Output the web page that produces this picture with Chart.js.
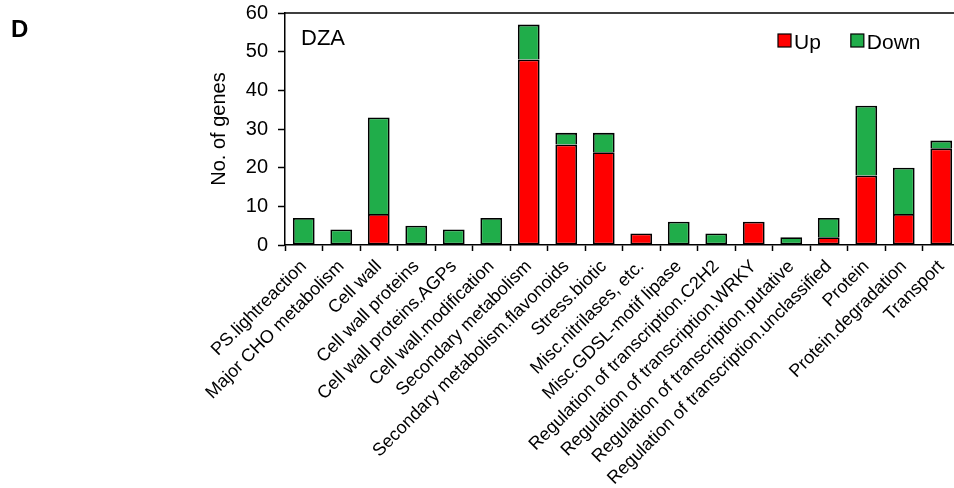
<!DOCTYPE html>
<html>
<head>
<meta charset="utf-8">
<script src="https://cdn.jsdelivr.net/npm/chart.js@4"></script>
<style>
  html, body { margin: 0; padding: 0; overflow: hidden; background: #fff; }
  #wrap { width: 970px; height: 488px; position: relative; }
</style>
</head>
<body>
<div id="wrap"><canvas id="genes"></canvas></div>
<script>
var categories = [
  'PS.lightreaction', 'Major CHO metabolism', 'Cell wall', 'Cell wall proteins',
  'Cell wall proteins.AGPs', 'Cell wall.modification', 'Secondary metabolism',
  'Secondary metabolism.flavonoids', 'Stress.biotic', 'Misc.nitrilases, etc.',
  'Misc.GDSL-motif lipase', 'Regulation of transcription.C2H2',
  'Regulation of transcription.WRKY', 'Regulation of transcription.putative',
  'Regulation of transcription.unclassified', 'Protein', 'Protein.degradation', 'Transport'
];
var upCounts   = [0, 0, 8, 0, 0, 0, 48, 26, 24, 3, 0, 0, 6, 0, 2, 18, 8, 25];
var downCounts = [7, 4, 25, 5, 4, 7, 9, 3, 5, 0, 6, 3, 0, 2, 5, 18, 12, 2];
var yTicks = [0, 10, 20, 30, 40, 50, 60];
var panelLetter = 'D';
var panelTitle = 'DZA';

var upColor = '#ff0000';
var downColor = '#20ad4a';
var font = 'Arial, "Liberation Sans", sans-serif';

// empty segments should not leave a border line on the axis
function noZero(arr) {
  return arr.map(function(v) { return v === 0 ? null : v; });
}

// frame, panel letter, inner title and legend
var extras = {
  id: 'extras',
  afterDraw: function(chart) {
    var ctx = chart.ctx, a = chart.chartArea;
    ctx.save();
    ctx.strokeStyle = '#000';
    ctx.lineWidth = 1.5;
    ctx.beginPath();
    ctx.moveTo(a.left, a.top);
    ctx.lineTo(a.right, a.top);
    ctx.lineTo(a.right, a.bottom);
    ctx.stroke();

    ctx.fillStyle = '#000';
    ctx.textBaseline = 'alphabetic';
    ctx.textAlign = 'left';
    ctx.font = 'bold 24px ' + font;
    ctx.fillText(panelLetter, 11, 37);
    ctx.font = '22px ' + font;
    ctx.fillText(panelTitle, 301, 45);

    // legend
    ctx.font = '21px ' + font;
    var x = 778, y = 34, box = 13;
    chart.data.datasets.forEach(function(ds) {
      ctx.fillStyle = ds.backgroundColor;
      ctx.fillRect(x, y, box, box);
      ctx.lineWidth = 1.2;
      ctx.strokeStyle = '#000';
      ctx.strokeRect(x, y, box, box);
      ctx.fillStyle = '#000';
      ctx.fillText(ds.label, x + box + 3, y + 15);
      x += box + 3 + ctx.measureText(ds.label).width + 30;
    });
    ctx.restore();
  }
};

var ctx = document.getElementById('genes').getContext('2d');
var chart = new Chart(ctx, {
  type: 'bar',
  data: {
    labels: categories,
    datasets: [
      { label: 'Up', data: noZero(upCounts), backgroundColor: upColor, borderColor: '#000', borderWidth: 1.8, borderSkipped: false },
      { label: 'Down', data: noZero(downCounts), backgroundColor: downColor, borderColor: '#000',
        borderWidth: function(c) {
          // sits on a red segment: let the red top edge be the divider
          return upCounts[c.dataIndex] ? { top: 1.8, left: 1.8, right: 1.8, bottom: 0 } : 1.8;
        },
        borderSkipped: false }
    ]
  },
  options: {
    responsive: true,
    maintainAspectRatio: false,
    animation: false,
    categoryPercentage: 1,
    barPercentage: 0.58,
    layout: { padding: { left: 203, top: 13, right: 10, bottom: 0 } },
    plugins: {
      legend: { display: false },
      tooltip: { enabled: false }
    },
    scales: {
      x: {
        stacked: true,
        offset: true,
        grid: { offset: true, drawOnChartArea: false, drawTicks: true, tickLength: 6, tickWidth: 1.5, tickColor: '#000' },
        border: { color: '#000', width: 1.5 },
        ticks: { autoSkip: false, minRotation: 45, maxRotation: 45, padding: 5, color: '#000', font: { family: font, size: 18 } },
        afterFit: function(s) { s.height = 243; s.paddingLeft = 0; s.paddingRight = 0; }
      },
      y: {
        stacked: true,
        min: 0,
        max: 60,
        afterBuildTicks: function(s) { s.ticks = yTicks.map(function(v) { return { value: v }; }); },
        grid: { drawOnChartArea: false, tickLength: 7, tickWidth: 1.5, tickColor: '#000' },
        border: { color: '#000', width: 1.5 },
        ticks: { padding: 10, color: '#000', font: { family: font, size: 20 } },
        title: { display: true, text: 'No. of genes', color: '#000', font: { family: font, size: 20 }, padding: { top: 4, bottom: 0 } },
        afterFit: function(s) { s.width = 82; s.paddingTop = 0; s.paddingBottom = 0; }
      }
    }
  },
  plugins: [extras]
});
</script>
</body>
</html>
